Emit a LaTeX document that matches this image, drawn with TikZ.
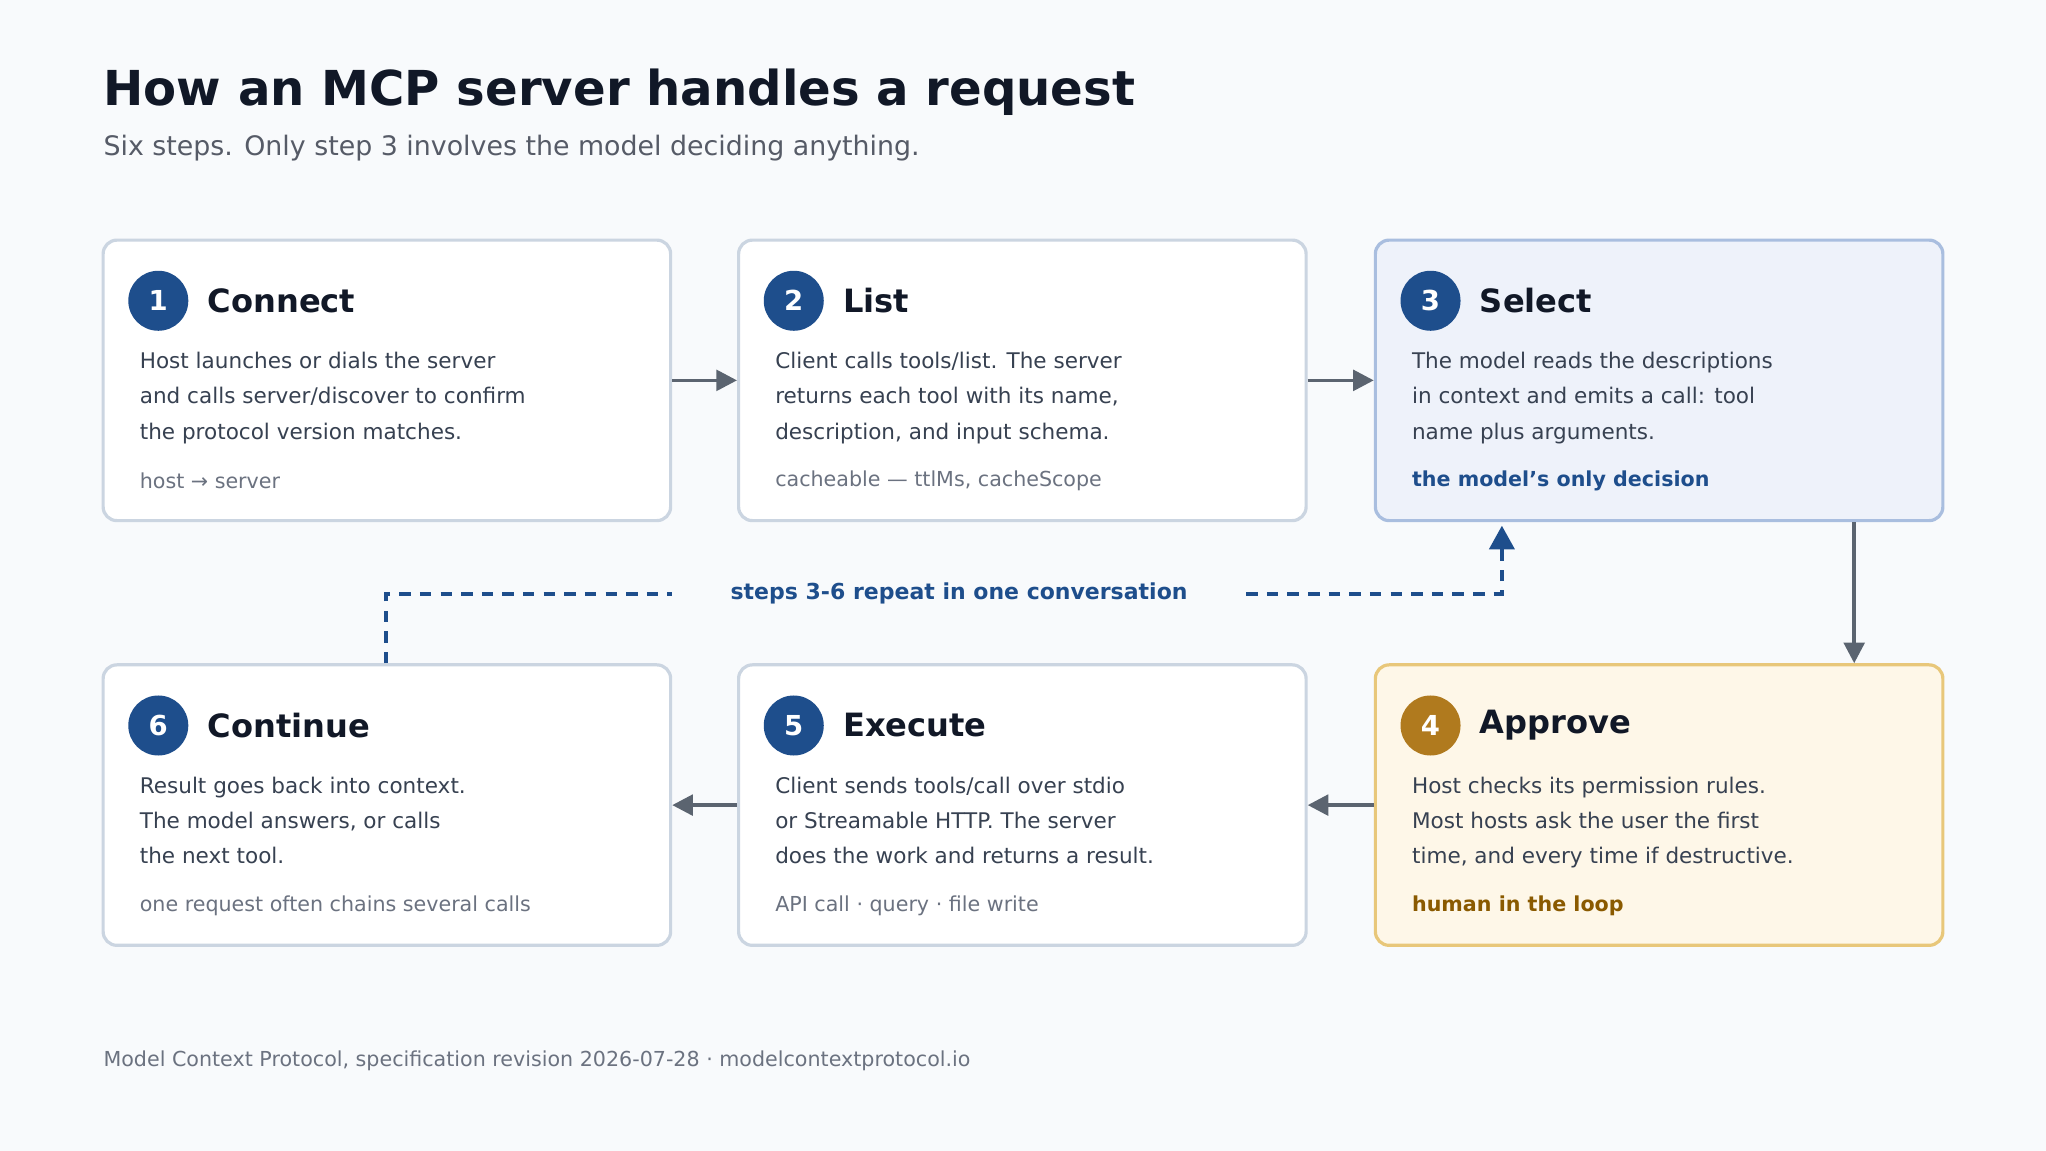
\documentclass[tikz,border=0pt]{standalone}
\usepackage{fontspec}
\setmainfont{DejaVu Sans}
\usetikzlibrary{arrows.meta,positioning}
\definecolor{pagebg}{HTML}{F8FAFC}
\definecolor{boxline}{HTML}{CBD5E1}
\definecolor{stepblue}{HTML}{1E4E8C}
\definecolor{selfill}{HTML}{EEF2FA}
\definecolor{selline}{HTML}{A9BEDF}
\definecolor{aprfill}{HTML}{FEF7E8}
\definecolor{aprline}{HTML}{E8C77A}
\definecolor{aprdot}{HTML}{B07A1E}
\definecolor{aprtext}{HTML}{8A5A00}
\definecolor{ink}{HTML}{111827}
\definecolor{bodyink}{HTML}{374151}
\definecolor{mute}{HTML}{6B7280}
\definecolor{flow}{HTML}{5B6470}
\tikzset{
  stepbox/.style={draw=boxline,line width=1.4pt,fill=white,rounded corners=6pt,
    minimum width=8.7cm,minimum height=4.3cm,inner sep=0pt},
  dot/.style={circle,fill=stepblue,minimum size=0.92cm,inner sep=0pt,text=white,
    font=\fontsize{12}{12}\selectfont\bfseries},
  head/.style={anchor=west,inner sep=0pt,text=ink,font=\fontsize{14}{14}\selectfont\bfseries},
  body/.style={anchor=north west,inner sep=0pt,align=left,text=bodyink,
    font=\fontsize{9.4}{15.4}\selectfont},
  tag/.style={anchor=west,inner sep=0pt,text=mute,font=\fontsize{9}{9}\selectfont},
  flowarrow/.style={draw=flow,line width=1.6pt,-{Triangle[length=9pt,width=9pt]}},
  loop/.style={draw=stepblue,line width=1.6pt,dash pattern=on 5pt off 4pt}
}
\begin{document}
\begin{tikzpicture}[x=0.02cm,y=-0.02cm]
  \fill[pagebg] (0,0) rectangle (1568,882);
  \node[anchor=base west,inner sep=0pt,text=ink,font=\fontsize{21}{21}\selectfont\bfseries] (title) at (79,81) {How an MCP server handles a request};
  \node[anchor=base west,inner sep=0pt,text=mute!80!black,font=\fontsize{11.7}{12}\selectfont] (sub) at (79,119) {Six steps. Only step 3 involves the model deciding anything.};
  % boxes
  \node[stepbox] (s1) at (296.5,291.5) {};
  \node[stepbox] (s2) at (783.5,291.5) {};
  \node[stepbox,fill=selfill,draw=selline] (s3) at (1271.5,291.5) {};
  \node[stepbox,fill=aprfill,draw=aprline] (s4) at (1271.5,617) {};
  \node[stepbox] (s5) at (783.5,617) {};
  \node[stepbox] (s6) at (296.5,617) {};
  % step contents
  \foreach \b/\n/\h in {s1/1/Connect,s2/2/List,s3/3/Select,s5/5/Execute,s6/6/Continue}{
    \node[dot] (\b n) at ([shift={(43.5,-61)}]\b.west) {\n};
    \node[head] at ([shift={(81,-61)}]\b.west) {\h};
  }
  \node[dot,fill=aprdot] (s4n) at ([shift={(43.5,-61)}]s4.west) {4};
  \node[head] at ([shift={(81,-61)}]s4.west) {Approve};
  \node[body] at ([shift={(29,-22)}]s1.west) {Host launches or dials the server\\and calls server/discover to confirm\\the protocol version matches.};
  \node[tag] at ([shift={(29,77)}]s1.west) {host \textrightarrow{} server};
  \node[body] at ([shift={(29,-22)}]s2.west) {Client calls tools/list. The server\\returns each tool with its name,\\description, and input schema.};
  \node[tag] at ([shift={(29,77)}]s2.west) {cacheable — ttlMs, cacheScope};
  \node[body] at ([shift={(29,-22)}]s3.west) {The model reads the descriptions\\in context and emits a call: tool\\name plus arguments.};
  \node[tag,text=stepblue,font=\fontsize{9}{9}\selectfont\bfseries] at ([shift={(29,77)}]s3.west) {the model's only decision};
  \node[body] at ([shift={(29,-22)}]s4.west) {Host checks its permission rules.\\Most hosts ask the user the first\\time, and every time if destructive.};
  \node[tag,text=aprtext,font=\fontsize{9}{9}\selectfont\bfseries] at ([shift={(29,77)}]s4.west) {human in the loop};
  \node[body] at ([shift={(29,-22)}]s5.west) {Client sends tools/call over stdio\\or Streamable HTTP. The server\\does the work and returns a result.};
  \node[tag] at ([shift={(29,77)}]s5.west) {API call · query · file write};
  \node[body] at ([shift={(29,-22)}]s6.west) {Result goes back into context.\\The model answers, or calls\\the next tool.};
  \node[tag] at ([shift={(29,77)}]s6.west) {one request often chains several calls};
  % flow
  \draw[flowarrow] (s1.east) -- (s2.west);
  \draw[flowarrow] (s2.east) -- (s3.west);
  \draw[flowarrow] (s3.south -| 1421,0) -- (s4.north -| 1421,0);
  \draw[flowarrow] (s4.west) -- (s5.east);
  \draw[flowarrow] (s5.west) -- (s6.east);
  % repeat loop
  \node[inner sep=0pt,text=stepblue,font=\fontsize{9.6}{10}\selectfont\bfseries] (rep) at (735,455) {steps 3-6 repeat in one conversation};
  \coordinate (lpA) at (515,455);
  \coordinate (lpB) at (955,455);
  \draw[loop] (s6.north -| 296,0) |- (lpA);
  \draw[loop] (lpB) -| (1151,420);
  \draw[draw=none,fill=stepblue] (1141,421) -- (1161,421) -- (1151,403) -- cycle;
  \node[anchor=base west,inner sep=0pt,text=mute,font=\fontsize{9}{9}\selectfont] (foot) at (79,817) {Model Context Protocol, specification revision 2026-07-28 · modelcontextprotocol.io};
\end{tikzpicture}
\end{document}
